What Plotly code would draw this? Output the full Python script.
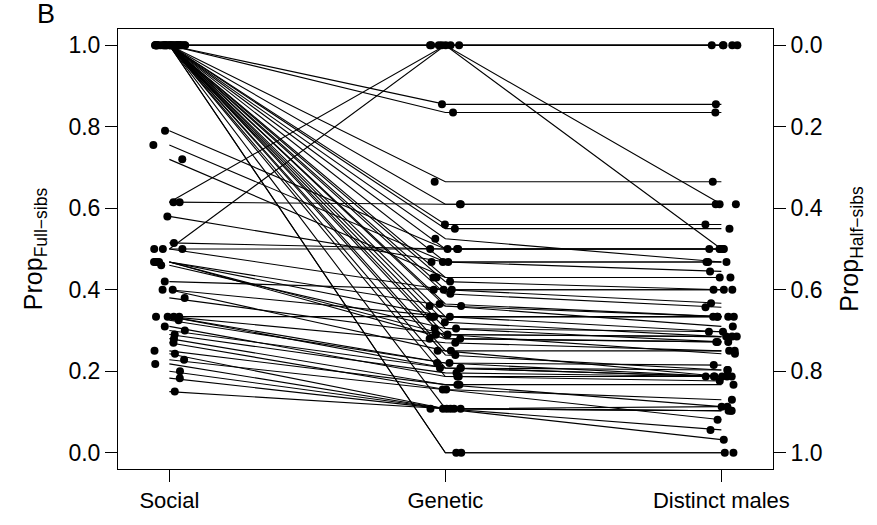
import plotly.graph_objects as go

# Proportion of full-sibs per brood, under three paternity definitions
categories = ["Social", "Genetic", "Distinct males"]

social = [
    1.0, 1.0, 1.0, 1.0, 1.0, 1.0, 1.0, 1.0, 1.0, 1.0,
    1.0, 1.0, 1.0, 1.0, 1.0, 1.0, 1.0, 1.0, 1.0, 1.0,
    1.0, 1.0, 1.0, 1.0, 1.0, 1.0, 1.0, 1.0, 1.0, 1.0,
    1.0, 1.0,
    0.79, 0.755, 0.72, 0.615, 0.615, 0.58, 0.515, 0.50, 0.50, 0.50,
    0.468, 0.468, 0.468, 0.468, 0.46, 0.42, 0.40, 0.40, 0.38,
    0.334, 0.334, 0.334, 0.334, 0.325, 0.31, 0.30, 0.29, 0.28,
    0.27, 0.25, 0.243, 0.228, 0.218, 0.20, 0.183, 0.15,
]
genetic = [
    1.0, 1.0, 1.0, 1.0, 1.0, 0.855, 0.835, 0.665, 0.61, 0.56,
    0.55, 0.525, 0.50, 0.468, 0.43, 0.42, 0.40, 0.39, 0.365, 0.36,
    0.334, 0.32, 0.305, 0.25, 0.24, 0.187, 0.108, 0.0, 0.0, 0.29,
    0.28, 0.208,
    0.50, 0.468, 0.43, 1.0, 0.61, 0.468, 0.50, 1.0, 0.50, 0.40,
    0.334, 0.29, 0.28, 0.36, 0.305, 0.40, 0.334, 0.25, 0.29,
    0.334, 0.27, 0.22, 0.208, 0.22, 0.187, 0.208, 0.196, 0.167,
    0.155, 0.167, 0.108, 0.155, 0.108, 0.108, 0.108, 0.108,
]
distinct = [
    1.0, 1.0, 1.0, 0.61, 0.50, 0.855, 0.835, 0.665, 0.61, 0.56,
    0.55, 0.468, 0.50, 0.445, 0.43, 0.40, 0.367, 0.357, 0.334, 0.31,
    0.297, 0.285, 0.272, 0.187, 0.203, 0.176, 0.103, 0.0, 0.0, 0.285,
    0.272, 0.187,
    0.50, 0.468, 0.43, 1.0, 0.61, 0.468, 0.50, 1.0, 0.50, 0.40,
    0.334, 0.285, 0.272, 0.334, 0.297, 0.40, 0.334, 0.25, 0.243,
    0.334, 0.25, 0.215, 0.203, 0.187, 0.187, 0.187, 0.187, 0.167,
    0.13, 0.113, 0.113, 0.081, 0.056, 0.103, 0.032, 0.103,
]

y_ticks = [0.0, 0.2, 0.4, 0.6, 0.8, 1.0]
FONT = "Liberation Sans, Arial, sans-serif"

cols = [social, genetic, distinct]
n = len(social)

# connecting lines, one polyline per brood through the category centres
lx, ly = [], []
for i in range(n):
    lx += [1, 2, 3, None]
    ly += [social[i], genetic[i], distinct[i], None]


def spread(k, width=0.058):
    """Deterministic horizontal offset in [-width, width] for the k-th point."""
    h = (k * 2654435761 + 97531) % 4294967296
    h ^= h >> 13
    h = (h * 1274126177) % 4294967296
    return width * (2.0 * (h % 10007) / 10006.0 - 1.0)


# points, spread horizontally so overlapping values stay visible
px, py = [], []
for c, vals in enumerate(cols):
    for i, v in enumerate(vals):
        px.append(c + 1 + spread(i * 3 + c))
        py.append(v)

fig = go.Figure()
fig.add_trace(go.Scatter(x=lx, y=ly, mode="lines",
                         line=dict(color="black", width=1.1),
                         hoverinfo="skip", showlegend=False))
fig.add_trace(go.Scatter(x=px, y=py, mode="markers",
                         marker=dict(color="black", size=8, line=dict(width=0)),
                         showlegend=False))
# invisible trace carrying the mirrored right-hand axis
fig.add_trace(go.Scatter(x=[None], y=[None], yaxis="y2", showlegend=False))

fig.update_layout(
    width=877, height=525,
    margin=dict(l=118, r=104, t=29, b=56),
    paper_bgcolor="white", plot_bgcolor="white",
    font=dict(family=FONT, size=22, color="black"),
    xaxis=dict(range=[0.814, 3.187], tickmode="array", tickvals=[1, 2, 3],
               ticktext=categories, ticks="outside", ticklen=12,
               tickcolor="black", showgrid=False, zeroline=False,
               showline=True, linecolor="black", linewidth=1, mirror=True,
               tickfont=dict(size=22)),
    yaxis=dict(range=[-0.04, 1.04], tickmode="array", tickvals=y_ticks,
               ticktext=[f"{t:.1f}" for t in y_ticks], ticks="outside",
               ticklen=12, tickcolor="black", showgrid=False, zeroline=False,
               showline=True, linecolor="black", linewidth=1, mirror=True,
               tickfont=dict(size=23),
               title=dict(text="Prop<sub>Full\u2212sibs</sub>", font=dict(size=25), standoff=18)),
    yaxis2=dict(overlaying="y", side="right", range=[1.04, -0.04],
                tickmode="array", tickvals=y_ticks,
                ticktext=[f"{t:.1f}" for t in y_ticks], ticks="outside",
                ticklen=12, tickcolor="black", showgrid=False, zeroline=False,
                showline=False, tickfont=dict(size=23),
                title=dict(text="Prop<sub>Half\u2212sibs</sub>", font=dict(size=25), standoff=18)),
    annotations=[dict(text="B", xref="paper", yref="paper", x=-0.126, y=1.035,
                      xanchor="left", yanchor="middle", showarrow=False,
                      font=dict(size=27))],
)

fig.write_html("out.html")
